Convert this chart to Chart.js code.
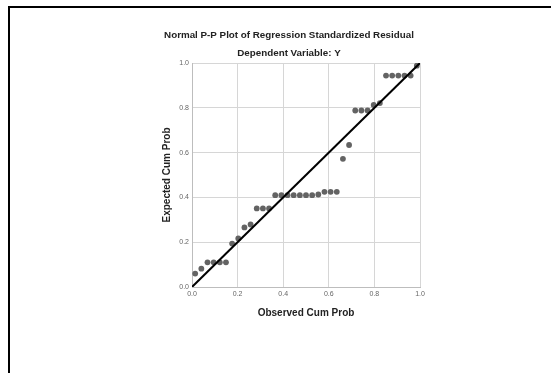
<!DOCTYPE html>
<html>
<head>
<meta charset="utf-8">
<script src="https://cdn.jsdelivr.net/npm/chart.js@4.4.1/dist/chart.umd.min.js"></script>
<style>
  html, body { margin: 0; padding: 0; background: #fff; }
  #wrap { position: relative; width: 551px; height: 373px; overflow: hidden; }
  #frame { position: absolute; left: 8px; top: 6px; width: 560px; height: 400px;
           border-left: 2px solid #000; border-top: 2px solid #000; }
  canvas { position: absolute; left: 0; top: 0; }
</style>
</head>
<body>
<div id="wrap">
  <div id="frame"></div>
  <canvas id="ppChart" width="551" height="373"></canvas>
</div>
<script>
// observed vs expected cumulative probability
const obsCumProb = [0.014, 0.041, 0.068, 0.095, 0.122, 0.149, 0.176, 0.203, 0.230, 0.257,
                    0.284, 0.311, 0.338, 0.365, 0.392, 0.419, 0.446, 0.473, 0.500, 0.527,
                    0.554, 0.581, 0.608, 0.635, 0.662, 0.689, 0.716, 0.743, 0.770, 0.797,
                    0.824, 0.851, 0.878, 0.905, 0.932, 0.959, 0.986];
const expCumProb = [0.060, 0.082, 0.110, 0.110, 0.110, 0.110, 0.194, 0.217, 0.266, 0.279,
                    0.351, 0.351, 0.351, 0.410, 0.410, 0.410, 0.410, 0.410, 0.410, 0.410,
                    0.413, 0.425, 0.425, 0.425, 0.572, 0.634, 0.788, 0.788, 0.788, 0.813,
                    0.821, 0.944, 0.944, 0.944, 0.944, 0.944, 0.988];
const refLineX = [0, 1];
const refLineY = [0, 1];
const axisTicks = [0.0, 0.2, 0.4, 0.6, 0.8, 1.0];

const FONT = 'Arial, "Liberation Sans", sans-serif';

const textPlugin = {
    id: 'ppText',
    afterDraw(chart) {
        const ctx = chart.ctx;
        const area = chart.chartArea;
        ctx.save();
        ctx.fillStyle = '#222';
        ctx.textAlign = 'center';
        ctx.textBaseline = 'middle';
        ctx.font = 'bold 9.8px ' + FONT;
        ctx.fillText('Normal P-P Plot of Regression Standardized Residual', 289, 35);
        ctx.fillText('Dependent Variable: Y', 289, 53);
        ctx.font = 'bold 10px ' + FONT;
        ctx.fillText('Observed Cum Prob', (area.left + area.right) / 2, 313);
        ctx.translate(167, (area.top + area.bottom) / 2);
        ctx.rotate(-Math.PI / 2);
        ctx.fillText('Expected Cum Prob', 0, 0);
        ctx.restore();
    }
};

function axisOptions(fit) {
    return {
        type: 'linear',
        min: 0,
        max: 1,
        afterBuildTicks: (scale) => { scale.ticks = axisTicks.map(v => ({ value: v })); },
        afterFit: fit,
        ticks: {
            color: '#666',
            font: { family: FONT, size: 7 },
            padding: 3,
            callback: (v) => Number(v).toFixed(1)
        },
        grid: { color: '#d6d6d6', lineWidth: 1, drawTicks: false },
        border: { color: '#bdbdbd', width: 1 }
    };
}

new Chart(document.getElementById('ppChart'), {
    type: 'scatter',
    data: {
        datasets: [
            {
                type: 'line',
                data: refLineX.map((x, i) => ({ x: x, y: refLineY[i] })),
                borderColor: '#000',
                borderWidth: 2,
                pointRadius: 0,
                order: 0
            },
            {
                data: obsCumProb.map((x, i) => ({ x: x, y: expCumProb[i] })),
                backgroundColor: '#636363',
                borderWidth: 0,
                pointRadius: 2.9,
                order: 1
            }
        ]
    },
    options: {
        responsive: false,
        animation: false,
        devicePixelRatio: 1,
        layout: { padding: { left: 0, top: 63, right: 131, bottom: 0 } },
        plugins: { legend: { display: false }, tooltip: { enabled: false } },
        scales: {
            x: axisOptions((s) => { s.height = 86; }),
            y: axisOptions((s) => { s.width = 192; })
        }
    },
    plugins: [textPlugin]
});
</script>
</body>
</html>
